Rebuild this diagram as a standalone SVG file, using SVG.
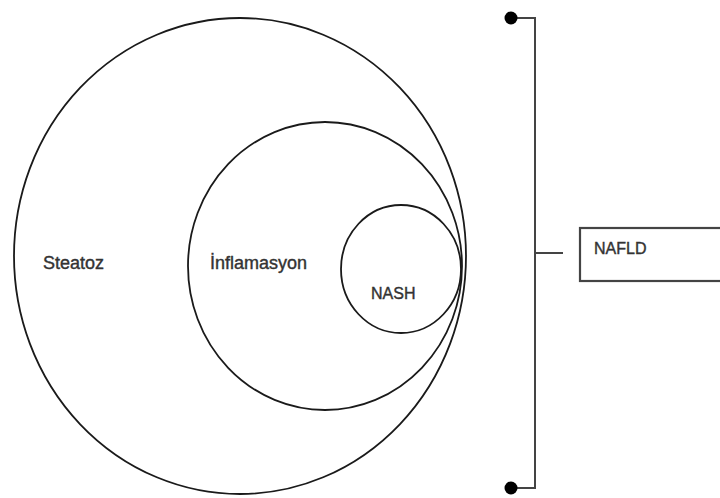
<svg xmlns="http://www.w3.org/2000/svg" width="720" height="498" viewBox="0 0 720 498">
<style>
.c{fill:none;stroke:#1a1a1a;stroke-width:1.8}
.t{font-family:"Liberation Sans",Arial,sans-serif;fill:#333;stroke:#333;stroke-width:0.4}
.ln{stroke:#444;stroke-width:2;fill:none}
</style>
<rect width="720" height="498" fill="#fff"/>
<g id="steatoz">
<ellipse class="c" cx="240" cy="256" rx="226" ry="238"/>
<text class="t" x="43" y="269" font-size="18">Steatoz</text>
</g>
<g id="inflamasyon">
<ellipse class="c" cx="325" cy="266" rx="137" ry="144"/>
<text class="t" x="210" y="269" font-size="18">İnflamasyon</text>
</g>
<g id="nash">
<ellipse class="c" cx="401" cy="269" rx="60" ry="64"/>
<text class="t" x="371" y="299" font-size="16">NASH</text>
</g>
<g id="connectors">
<polyline class="ln" points="511,18 535,18 535,488 511,488"/>
<line class="ln" x1="535" y1="253" x2="563" y2="253" stroke-width="1.5"/>
<circle cx="511" cy="18" r="6.5" fill="#000"/>
<circle cx="511" cy="488" r="6.5" fill="#000"/>
</g>
<g id="nafld">
<rect x="580" y="228" width="150" height="53" fill="#fff" stroke="#444" stroke-width="2.2"/>
<text class="t" x="594" y="254" font-size="16">NAFLD</text>
</g>
</svg>
